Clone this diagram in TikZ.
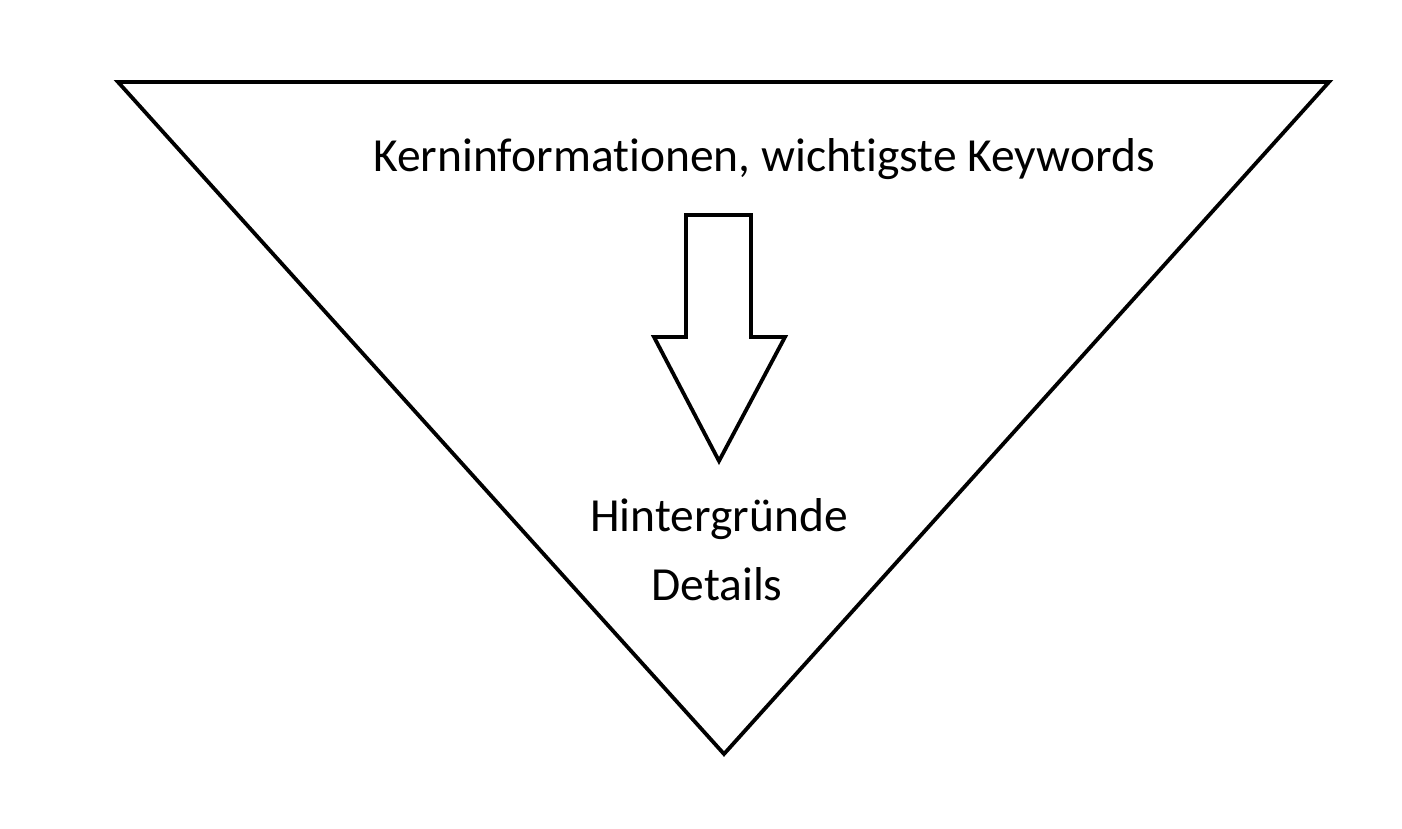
\documentclass[tikz,border=0pt]{standalone}
\usepackage{fontspec}
\setmainfont[Ligatures={NoCommon}]{Carlito}
\begin{document}
\begin{tikzpicture}[x=1pt,y=-1pt,
  shape line/.style={draw=black,line width=3.8pt,line join=miter},
  label text/.style={font=\fontsize{47.5}{58}\selectfont,inner sep=0pt,anchor=base}]
\useasboundingbox[fill=white] (0,0) rectangle (1402,829);
\coordinate (tl) at (118,82);
\coordinate (tr) at (1329,82);
\coordinate (bt) at (724,754);
\draw[shape line] (tl) -- (tr) -- (bt) -- cycle;
\coordinate (s1) at (686,215);
\coordinate (s2) at (751,215);
\draw[shape line] (s1) -- (s2) -- (751,337) -- (785,337) -- (719,461) -- (654,337) -- (686,337) -- cycle;
\node[label text] (k) at (764,172) {Kerninformationen, wichtigste Keywords};
\node[label text] (h) at (719,531) {Hintergründe};
\node[label text] (d) at (717,600) {Details};
\end{tikzpicture}
\end{document}
